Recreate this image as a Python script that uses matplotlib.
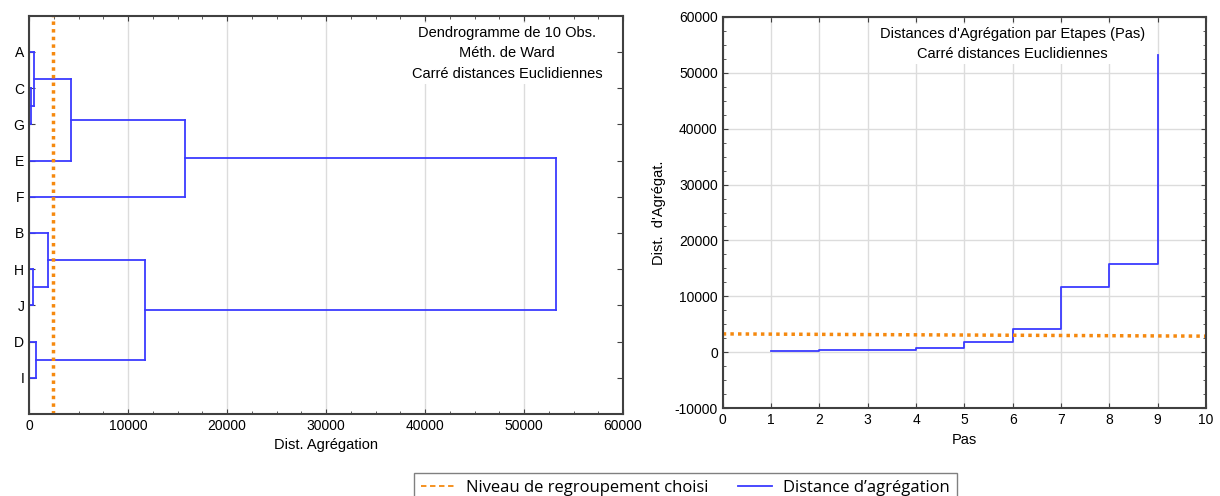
import matplotlib.pyplot as plt
from matplotlib.lines import Line2D
from matplotlib.ticker import MultipleLocator

plt.rcParams["font.family"] = ["Liberation Sans", "DejaVu Sans"]
plt.rcParams["axes.unicode_minus"] = False

# leaves in dendrogram order (top to bottom)
leaves = ["A", "C", "G", "E", "F", "B", "H", "J", "D", "I"]
# merges: (child1, child2, height); children 0-9 are leaves, 10+ are merged nodes
merges = [
    (1, 2, 200),      # C-G
    (6, 7, 350),      # H-J
    (0, 10, 500),     # A-(C,G)
    (8, 9, 700),      # D-I
    (5, 11, 1880),    # B-(H,J)
    (12, 3, 4230),    # (A,C,G)-E
    (14, 13, 11700),
    (15, 4, 15800),
    (17, 16, 53200),
]
cut_level = 2400
cut_line_steps = [0, 10]
cut_line_values = [3300, 2900]

BLUE = "#3b3bff"
ORANGE = "#f5890f"
SPINE = "#404040"

fig = plt.figure(figsize=(12.2, 4.96), dpi=100)
ax1 = fig.add_axes([0.0238, 0.1653, 0.4869, 0.8030])
ax2 = fig.add_axes([0.5924, 0.1768, 0.3961, 0.7895])

# ---- dendrogram
node_x = {i: 0 for i in range(len(leaves))}
node_y = {i: i + 1 for i in range(len(leaves))}
for k, (a, b, h) in enumerate(merges):
    for c in (a, b):
        ax1.plot([node_x[c], h], [node_y[c], node_y[c]], color=BLUE, lw=1.3)
    ax1.plot([h, h], [node_y[a], node_y[b]], color=BLUE, lw=1.3)
    nid = len(leaves) + k
    node_x[nid] = h
    node_y[nid] = (node_y[a] + node_y[b]) / 2

ax1.axvline(cut_level, color=ORANGE, lw=2.5, ls=(0, (1, 1.2)))
ax1.set_xlim(0, 60000)
ax1.set_ylim(11, 0)
ax1.set_yticks(range(1, len(leaves) + 1))
ax1.set_yticklabels(leaves, fontsize=11)
ax1.xaxis.set_major_locator(MultipleLocator(10000))
ax1.xaxis.set_minor_locator(MultipleLocator(2500))
ax1.tick_params(axis="both", which="both", direction="in", top=True, right=True,
                labelsize=10, color=SPINE)
ax1.tick_params(axis="y", length=4)
ax1.grid(axis="x", color="#dcdcdc", lw=1)
ax1.set_xlabel("Dist. Agrégation", fontsize=10.5, labelpad=4)
ax1.text(0.805, 0.975, "Dendrogramme de 10 Obs.\nMéth. de Ward\nCarré distances Euclidiennes",
         transform=ax1.transAxes, ha="center", va="top", fontsize=10.5, linespacing=1.6,
         bbox=dict(facecolor="white", edgecolor="none", pad=2))

# ---- aggregation distances by step
steps = list(range(1, len(merges) + 1))
step_values = sorted(m[2] for m in merges)
ax2.plot(steps, step_values, drawstyle="steps-post", color=BLUE, lw=1.3)
ax2.plot(cut_line_steps, cut_line_values, color=ORANGE, lw=2.5, ls=(0, (1, 1.2)))
ax2.set_xlim(0, 10)
ax2.set_ylim(-10000, 60000)
ax2.xaxis.set_major_locator(MultipleLocator(1))
ax2.yaxis.set_major_locator(MultipleLocator(10000))
ax2.yaxis.set_minor_locator(MultipleLocator(2500))
ax2.tick_params(axis="both", which="both", direction="in", top=True, right=True,
                labelsize=10, color=SPINE)
ax2.grid(color="#dcdcdc", lw=1)
ax2.set_xlabel("Pas", fontsize=10.5, labelpad=4)
ax2.set_ylabel("Dist.  d'Agrégat.", fontsize=10.5, labelpad=6)
ax2.text(0.6, 0.975, "Distances d'Agrégation par Etapes (Pas)\nCarré distances Euclidiennes",
         transform=ax2.transAxes, ha="center", va="top", fontsize=10.5, linespacing=1.6,
         bbox=dict(facecolor="white", edgecolor="none", pad=2))

for ax in (ax1, ax2):
    ax.set_axisbelow(True)
    for s in ax.spines.values():
        s.set_color(SPINE)
        s.set_linewidth(1.5)

handles = [
    Line2D([], [], color=ORANGE, lw=1.3, ls=(0, (3, 2))),
    Line2D([], [], color=BLUE, lw=1.3),
]
fig.legend(handles, ["Niveau de regroupement choisi", "Distance d\u2019agrégation"],
           loc="upper center", bbox_to_anchor=(0.5619, 0.0625), ncol=2,
           frameon=True, fancybox=False, edgecolor="#808080", framealpha=1,
           prop={"family": "Open Sans", "size": 12}, handlelength=2.0,
           handletextpad=0.7, columnspacing=1.8, borderpad=0.4)

fig.savefig("out.png", dpi=100)
